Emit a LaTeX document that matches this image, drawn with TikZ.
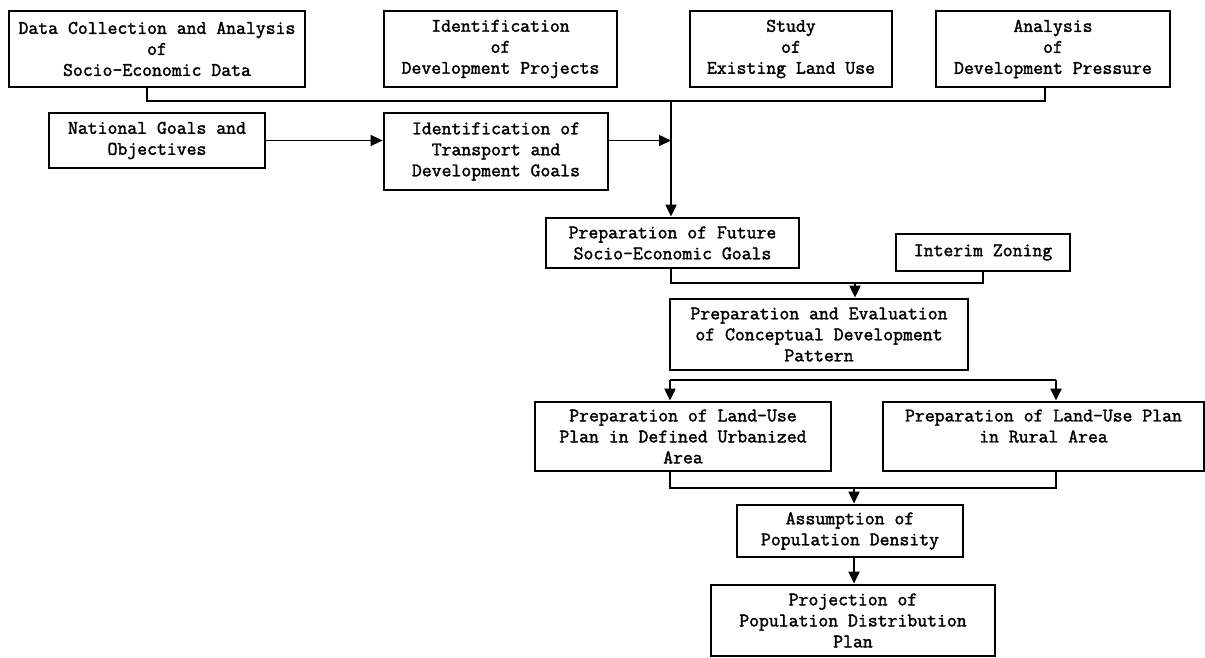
\documentclass[tikz,border=0pt]{standalone}
\usepackage{fontspec}
\newfontfamily\typewriter{Latin Modern Mono}[AutoFakeBold=1.8]
\usetikzlibrary{arrows.meta}
\begin{document}
\begin{tikzpicture}[x=1pt,y=-1pt,
  box/.style={draw, line width=2.8pt, inner sep=0pt, align=center,
    font=\typewriter\bfseries\fontsize{19.2}{21}\selectfont},
  conn/.style={line width=2pt},
  arr/.style={conn, -{Triangle[length=12pt,width=11pt]}},
  thinarr/.style={line width=1.5pt, -{Triangle[length=12pt,width=11pt]}},
]
\useasboundingbox (0,0) rectangle (1205,657);

% box from its corner coordinates (x1,y1) and (x2,y2)
\newcommand\flowbox[6]{%
  \pgfmathsetmacro\fbcx{(#2+#4)/2}\pgfmathsetmacro\fbcy{(#3+#5)/2}%
  \pgfmathsetmacro\fbw{#4-#2}\pgfmathsetmacro\fbh{#5-#3}%
  \node[box, minimum width=\fbw pt, minimum height=\fbh pt] (#1) at (\fbcx,\fbcy) {#6};}

% surveys feeding the goal setting
\flowbox{A}{9}{11}{305}{87}{Data Collection and Analysis\\of\\Socio-Economic Data}
\flowbox{B}{384}{11}{617}{87}{Identification\\of\\Development Projects}
\flowbox{C}{690}{11}{892}{87}{Study\\of\\Existing Land Use}
\flowbox{D}{936}{11}{1170}{87}{Analysis\\of\\Development Pressure}

\flowbox{E}{49}{113}{265}{168}{National Goals and\\Objectives}
\flowbox{F}{384}{113}{608}{190}{Identification of\\Transport and\\Development Goals}

\flowbox{G}{546}{218}{799}{268}{Preparation of Future\\Socio-Economic Goals}
\flowbox{H}{896}{234}{1070}{271}{Interim Zoning}

\flowbox{I}{670}{299}{968}{370}{Preparation and Evaluation\\of Conceptual Development\\Pattern}

\flowbox{J}{535}{402}{831}{471}{Preparation of Land-Use\\Plan in Defined Urbanized\\Area}
\flowbox{K}{883}{402}{1204}{471}{Preparation of Land-Use Plan\\in Rural Area\\~}

\flowbox{L}{737}{505}{963}{557}{Assumption of\\Population Density}
\flowbox{M}{711}{585}{995}{656}{Projection of\\Population Distribution\\Plan}

% collecting bus under the top row
\coordinate (hub) at (671,101);
\draw[conn] ([xshift=-10pt]A.south) |- (hub) -| ([xshift=-8pt]D.south);
\draw[arr] (hub) -- (hub |- G.north);

% goals chain
\draw[thinarr] (E.east) -- (E.east -| F.west);
\draw[thinarr] (F.east |- E.east) -- (E.east -| hub);

% future goals and interim zoning merge
\coordinate (m1) at (855,283);
\draw[conn] (G.south -| hub) |- (m1) -| (H.south);
\draw[arr] (m1) -- (m1 |- I.north);

% split to the two land-use plans
\coordinate (s1) at (670,380);
\coordinate (s2) at (1056,380);
\draw[conn] (s1) -- (s2);
\draw[arr] (s1) -- (s1 |- J.north);
\draw[arr] (s2) -- (s2 |- K.north);

% land-use plans merge
\coordinate (m2) at (854,488);
\draw[conn] (J.south -| s1) |- (m2) -| (K.south -| s2);
\draw[arr] (m2) -- (m2 |- L.north);
\draw[arr] (L.south -| m2) -- (m2 |- M.north);
\end{tikzpicture}
\end{document}
